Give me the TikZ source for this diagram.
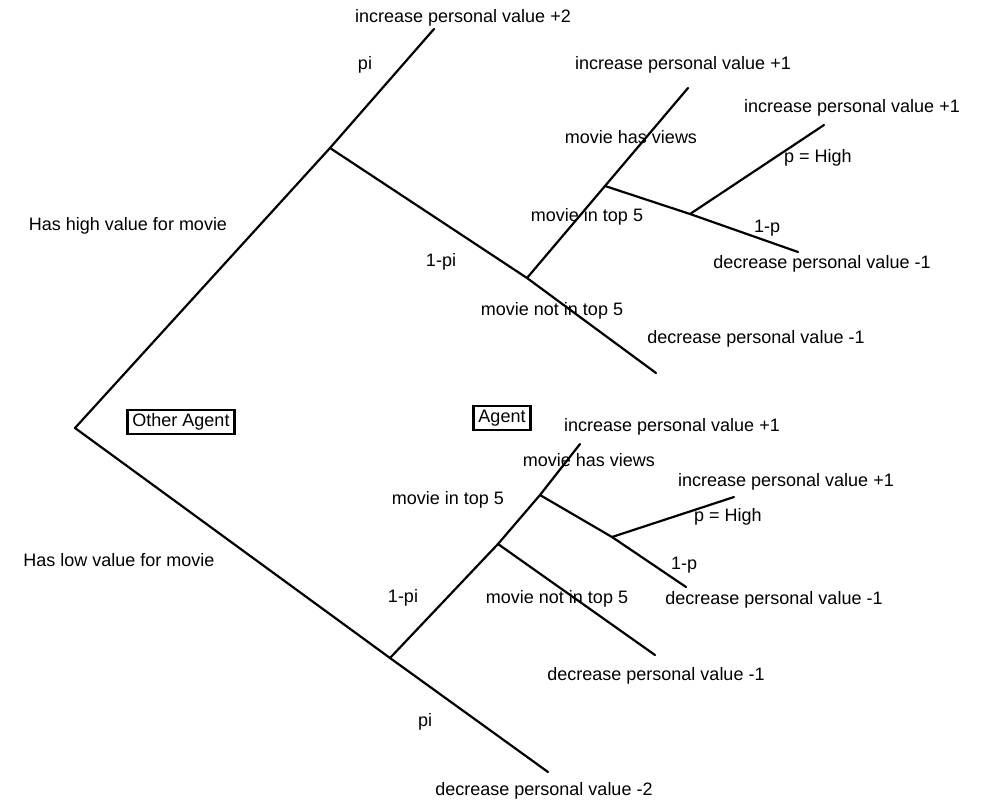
\documentclass[tikz,border=0pt]{standalone}
\usepackage{fontspec}
\setmainfont{Liberation Sans}
\usetikzlibrary{positioning}
\tikzstyle{branch}=[line width=2.2pt,line cap=round]
\tikzstyle{lbl}=[inner sep=1pt,font=\fontsize{18}{21}\selectfont]
\tikzstyle{agentbox}=[lbl,draw,line width=2.2pt,inner xsep=5pt,inner ysep=4pt]

\begin{document}
\begin{tikzpicture}[x=1pt,y=-1pt]
\useasboundingbox (0,0) rectangle (993,806);

% branch points
\coordinate (root) at (75,428);
\coordinate (hi)   at (330,148);
\coordinate (hiB)  at (527,278);
\coordinate (hiC)  at (605,186);
\coordinate (hiD)  at (690,214);
\coordinate (lo)   at (390,658);
\coordinate (loF)  at (540,495);
\coordinate (loG)  at (612,537);
\coordinate (loH)  at (498,544);

% leaves
\coordinate (hiTop)  at (434,29);
\coordinate (hiEnd)  at (656,373);
\coordinate (hiBTop) at (688,88);
\coordinate (hiCEnd) at (798,252);
\coordinate (hiDEnd) at (824,125);
\coordinate (loEnd)  at (548,772);
\coordinate (loTop)  at (580,444);
\coordinate (loFEnd) at (686,587);
\coordinate (loGEnd) at (734,497);
\coordinate (loHEnd) at (655,655);

% texts
\node[lbl] (t1)  at (463,18)  {increase personal value +2};
\node[lbl] (t2)  at (365,65)  {pi};
\node[lbl] (t3)  at (683,65)  {increase personal value +1};
\node[lbl] (t4)  at (631,137) {movie has views};
\node[lbl] (t5)  at (852,108) {increase personal value +1};
\node[lbl] (t6)  at (818,158) {p = High};
\node[lbl] (t7)  at (128,226) {Has high value for movie};
\node[lbl] (t8)  at (587,217) {movie in top 5};
\node[lbl] (t9)  at (767,228) {1-p};
\node[lbl] (t10) at (441,262) {1-pi};
\node[lbl] (t11) at (822,264) {decrease personal value -1};
\node[lbl] (t12) at (552,311) {movie not in top 5};
\node[lbl] (t13) at (756,339) {decrease personal value -1};
\node[agentbox] (other) at (181,422) {Other Agent};
\node[agentbox] (agent) at (502,418) {Agent};
\node[lbl] (t14) at (672,427) {increase personal value +1};
\node[lbl] (t15) at (589,460) {movie has views};
\node[lbl] (t16) at (786,482) {increase personal value +1};
\node[lbl] (t17) at (448,500) {movie in top 5};
\node[lbl] (t18) at (728,517) {p = High};
\node[lbl] (t19) at (119,560) {Has low value for movie};
\node[lbl] (t20) at (684,565) {1-p};
\node[lbl] (t21) at (557,599) {movie not in top 5};
\node[lbl] (t22) at (774,600) {decrease personal value -1};
\node[lbl] (t23) at (403,598) {1-pi};
\node[lbl] (t24) at (656,676) {decrease personal value -1};
\node[lbl] (t25) at (425,722) {pi};
\node[lbl] (t26) at (544,791) {decrease personal value -2};

% upper tree
\draw[branch] (root) -- (hi) -- (hiTop);
\draw[branch] (hi) -- (hiB) -- (hiEnd);
\draw[branch] (hiB) -- (hiC) -- (hiBTop);
\draw[branch] (hiC) -- (hiD) -- (hiCEnd);
\draw[branch] (hiD) -- (hiDEnd);

% lower tree
\draw[branch] (root) -- (lo) -- (loEnd);
\draw[branch] (lo) -- (loH) -- (loF) -- (loTop);
\draw[branch] (loF) -- (loG) -- (loFEnd);
\draw[branch] (loG) -- (loGEnd);
\draw[branch] (loH) -- (loHEnd);

\end{tikzpicture}
\end{document}
